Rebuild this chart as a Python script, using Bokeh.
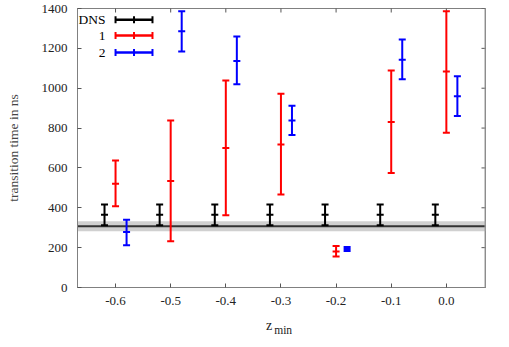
import numpy as np
from bokeh.plotting import figure
from bokeh.models import Range1d, FixedTicker, BoxAnnotation, Span, Label, ColumnDataSource, Div
from bokeh.layouts import column
from bokeh.embed import file_html
from bokeh.resources import INLINE

# ---- data ----
dns_x = [-0.62, -0.52, -0.42, -0.32, -0.22, -0.12, -0.02]
dns_y = [365, 365, 365, 365, 365, 365, 365]
dns_lo = [312, 312, 312, 312, 312, 312, 312]
dns_hi = [416, 416, 416, 416, 416, 416, 416]

s1_x = [-0.6, -0.5, -0.4, -0.3, -0.2, -0.1, 0.0]
s1_y = [520, 535, 700, 718, 181, 830, 1084]
s1_lo = [408, 232, 362, 467, 155, 575, 777]
s1_hi = [637, 838, 1039, 972, 208, 1089, 1386]

s2_x = [-0.58, -0.48, -0.38, -0.28, -0.18, -0.08, 0.02]
s2_y = [279, 1286, 1137, 838, 193, 1143, 960]
s2_lo = [212, 1184, 1020, 765, 183, 1045, 860]
s2_hi = [340, 1386, 1259, 912, 203, 1244, 1060]

band_center = 307
band_half = 25

x_ticks = [-0.6, -0.5, -0.4, -0.3, -0.2, -0.1, 0.0]
x_tick_labels = ["-0.6", "-0.5", "-0.4", "-0.3", "-0.2", "-0.1", "0.0"]
y_ticks = [0, 200, 400, 600, 800, 1000, 1200, 1400]

legend_names = ["DNS", "1", "2"]
colors = ["black", "#ff0000", "#0000ff"]

FONT = "Liberation Serif"
X0, X1 = -0.669, 0.071
Y0, Y1 = 0, 1400

p = figure(width=509, height=312, output_backend="svg", toolbar_location=None,
           x_range=Range1d(X0, X1), y_range=Range1d(Y0, Y1),
           min_border_left=77, min_border_right=24, min_border_top=8,
           min_border_bottom=25)
p.xgrid.visible = False
p.ygrid.visible = False
p.outline_line_color = "#808080"
p.background_fill_color = "white"

for ax in (p.xaxis[0], p.yaxis[0]):
    ax.axis_line_color = "#808080"
    ax.major_tick_in = 4
    ax.major_tick_out = 0
    ax.minor_tick_line_color = None
    ax.major_tick_line_color = "#555555"
    ax.major_label_text_font = FONT
    ax.major_label_text_font_size = "13px"
    ax.major_label_text_color = "#222222"

p.xaxis.ticker = FixedTicker(ticks=x_ticks)
p.xaxis.major_label_overrides = {t: l for t, l in zip(x_ticks, x_tick_labels)}
p.xaxis.major_label_standoff = 9
p.yaxis.ticker = FixedTicker(ticks=y_ticks)
p.yaxis.major_label_standoff = 10
p.yaxis.axis_label = "transition time in ns"
p.yaxis.axis_label_text_font = FONT
p.yaxis.axis_label_text_font_style = "normal"
p.yaxis.axis_label_text_font_size = "13.5px"
p.yaxis.axis_label_standoff = 18

# mirrored inward ticks on top and right edges (half of a centred dash is clipped)
p.dash(x=x_ticks, y=[Y1] * len(x_ticks), size=8, angle=np.pi / 2,
       line_color="#555555", line_width=1)
p.dash(x=[X1] * len(y_ticks), y=y_ticks, size=8, line_color="#555555", line_width=1)
p.add_layout(Span(location=X1, dimension="height", line_color="#999999", line_width=2))

# reference band
band = BoxAnnotation(bottom=band_center - band_half, top=band_center + band_half,
                     fill_color="#d0d0d0", fill_alpha=1.0, line_color=None,
                     level="underlay")
p.add_layout(band)
p.add_layout(Span(location=band_center, dimension="width", line_color="#333333",
                  line_width=2, level="underlay"))

def errbars(xs, ys, lo, hi, color):
    src = ColumnDataSource(dict(x=xs, y=ys, lo=lo, hi=hi))
    p.segment(x0="x", y0="lo", x1="x", y1="hi", source=src, line_color=color, line_width=2)
    p.dash(x="x", y="lo", source=src, size=7, line_color=color, line_width=2)
    p.dash(x="x", y="hi", source=src, size=7, line_color=color, line_width=2)
    p.dash(x="x", y="y", source=src, size=7, line_color=color, line_width=2)

errbars(dns_x, dns_y, dns_lo, dns_hi, colors[0])
errbars(s1_x, s1_y, s1_lo, s1_hi, colors[1])
errbars(s2_x, s2_y, s2_lo, s2_hi, colors[2])

# manual legend (label left, sample right)
leg_y = [1343, 1264, 1179]
for name, yy, c in zip(legend_names, leg_y, colors):
    p.add_layout(Label(x=-0.618, y=yy, text=name, text_align="right",
                       text_baseline="middle", text_font=FONT,
                       text_font_size="13.5px", text_color="black"))
    p.segment(x0=[-0.6], y0=[yy], x1=[-0.533], y1=[yy], line_color=c, line_width=2.5)
    p.dash(x=[-0.6, -0.5665, -0.533], y=[yy] * 3, size=7, angle=np.pi / 2,
           line_color=c, line_width=2)

# x-axis label z_min as HTML text below the plot
xlabel = Div(
    text=('<span style="font-family:\'Liberation Serif\';font-size:14px;color:#222">z'
          '<span style="font-size:11.5px;position:relative;top:4px;margin-left:2px">min</span></span>'),
    width=60, height=22, margin=(6, 0, 0, 266),
    styles={"line-height": "16px"})

layout = column(p, xlabel, spacing=0)
open("out.html", "w").write(file_html(layout, INLINE))
